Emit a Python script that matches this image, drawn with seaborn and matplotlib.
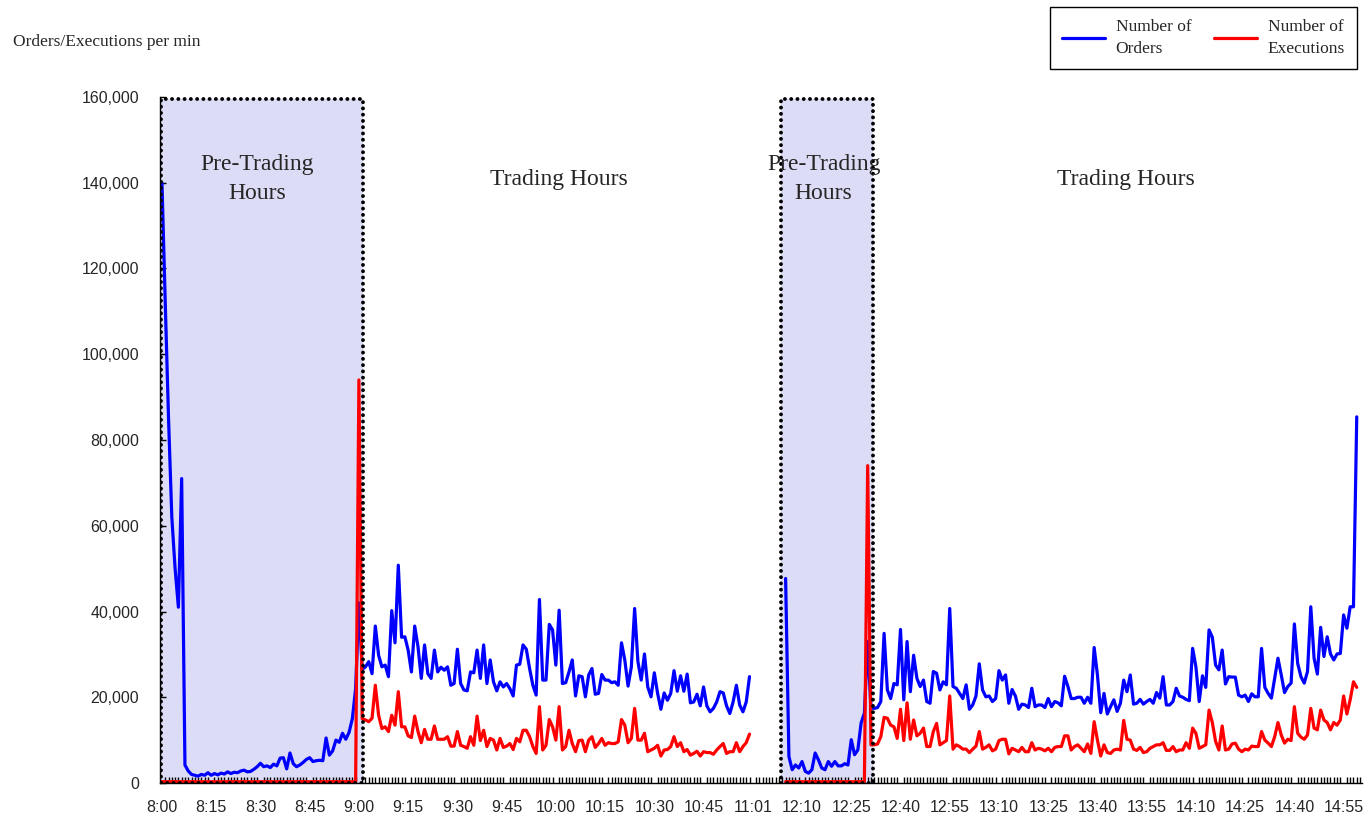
import seaborn as sns
import matplotlib.pyplot as plt
import matplotlib.ticker as mticker
from matplotlib.patches import Rectangle
import pandas as pd

# values in thousands per minute
# morning session: 8:00 (minute 0) .. 11:00 (minute 179)
am_pre_orders = [140, 112, 85, 62, 50, 41, 71, 4.2, 2.8, 2.0, 1.8, 1.6, 2.0, 1.8, 2.4, 1.8, 2.2,
                 1.9, 2.3, 2.1, 2.6, 2.2, 2.5, 2.4, 2.8, 3.0, 2.6, 2.7, 3.2, 3.8, 4.6, 3.8, 4.0,
                 3.6, 4.4, 4.0, 5.8, 5.9, 3.3, 7.0, 4.5, 3.8, 4.2, 4.8, 5.5, 5.9, 5.0, 5.2, 5.3,
                 5.2, 10.5, 6.5, 7.5, 10.0, 9.5, 11.6, 10.2, 11.8, 15.0, 22.0, 42.0]
am_pre_execs = [0.3] * 60 + [94.0]

am_orders = [26.5,
             27.1, 28.3, 25.5, 36.6, 29.8, 27.1, 27.5, 24.8, 40.2, 32.7,
             50.8, 34.0, 34.1, 31.0, 25.9, 36.6, 31.8, 24.4, 32.2, 25.5,
             24.4, 31.0, 25.9, 27.0, 26.3, 27.1, 22.8, 23.2, 31.2, 23.2,
             21.7, 21.5, 25.9, 25.7, 31.0, 24.4, 32.2, 23.2, 28.7, 23.6,
             21.5, 23.6, 22.4, 23.2, 22.0, 20.3, 27.5, 27.7, 32.2, 31.2,
             26.7, 22.8, 20.5, 42.8, 24.0, 24.0, 37.0, 35.7, 27.5, 40.3,
             23.2, 23.4, 25.9, 28.7, 20.3, 25.0, 24.8, 20.1, 25.2, 26.7,
             20.7, 20.9, 25.3, 24.0, 24.0, 23.4, 23.6, 22.8, 32.7, 28.7,
             22.6, 27.1, 40.7, 28.3, 24.0, 30.1, 22.4, 20.1, 25.7, 20.9,
             17.2, 21.0, 19.3, 20.9, 26.2, 21.4, 25.0, 21.4, 25.4, 18.7,
             18.9, 20.7, 18.0, 22.4, 18.0, 16.6, 17.4, 18.9, 21.3, 21.0,
             18.0, 16.2, 18.9, 22.8, 18.2, 16.6, 18.9, 24.8]
am_execs = [15.0,
            14.7, 14.3, 15.1, 22.8, 15.8, 12.7, 13.1, 12.0, 15.8, 13.5,
            21.3, 13.1, 13.1, 11.0, 10.6, 15.6, 12.0, 9.4, 12.5, 10.2,
            10.2, 13.3, 10.2, 10.2, 10.2, 10.8, 8.6, 8.6, 12.0, 8.8,
            8.5, 8.1, 10.8, 8.8, 15.6, 9.9, 12.3, 8.5, 10.4, 10.0,
            7.7, 10.4, 8.3, 8.6, 9.2, 7.8, 10.4, 9.6, 12.3, 12.3,
            10.8, 8.5, 6.9, 17.8, 7.7, 8.8, 14.8, 13.1, 10.0, 17.8,
            7.7, 8.5, 12.3, 9.2, 7.3, 9.9, 10.0, 7.3, 10.0, 10.8,
            8.3, 9.2, 10.4, 8.8, 9.4, 9.2, 9.2, 9.6, 14.8, 13.5,
            9.4, 10.4, 17.4, 10.0, 10.0, 11.6, 7.3, 7.7, 8.1, 8.8,
            6.3, 7.7, 7.8, 8.5, 10.8, 8.5, 9.4, 7.3, 7.8, 6.5,
            6.9, 7.4, 6.3, 7.3, 7.1, 7.1, 6.7, 7.7, 8.5, 9.2,
            6.9, 7.3, 7.3, 9.4, 7.3, 8.5, 9.4, 11.4]

# afternoon session: 12:05 (minute 190) .. 15:00
pm_pre_orders = [47.7, 6.2, 3.1, 4.2, 3.5, 5.0, 2.7, 2.3, 3.1, 7.0, 5.4, 3.5, 3.1, 5.0, 3.9,
                 5.0, 4.0, 4.0, 4.5, 4.2, 10.1, 6.6, 7.7, 14.0, 16.3, 33.0]
pm_pre_execs = [0.3] * 25 + [74.0]

pm_orders = [17.5,
             17.4, 17.6, 19.0, 34.9, 21.7, 19.7, 23.2, 22.9, 35.8, 19.4,
             33.0, 21.3, 29.8, 24.4, 22.5, 24.0, 19.0, 18.6, 26.0, 25.6,
             21.7, 23.6, 22.9, 40.7, 22.5, 22.1, 20.9, 19.7, 22.9, 17.2,
             18.2, 20.3, 27.8, 21.7, 20.1, 20.3, 19.0, 19.7, 26.2, 24.0,
             25.2, 18.6, 21.8, 20.3, 17.2, 18.4, 18.2, 17.6, 22.1, 17.8,
             18.2, 18.2, 17.6, 19.7, 17.8, 19.0, 18.7, 18.0, 24.9, 22.5,
             19.7, 19.7, 20.0, 20.0, 18.6, 20.0, 18.6, 31.6, 25.2, 16.4,
             20.9, 16.1,
             17.8, 19.4, 16.7, 18.6, 24.0, 21.3, 25.2, 18.4, 18.6, 19.5,
             18.4, 19.0, 19.5, 18.6, 21.1, 19.8, 24.8, 18.2, 18.2, 19.0,
             22.1, 20.3, 20.0, 19.5, 19.2, 31.4, 27.1, 19.0, 25.0, 22.3,
             35.7, 34.0, 27.5, 26.4, 31.0, 23.1, 24.8, 24.7, 24.7, 20.5,
             20.1, 20.5, 19.0, 20.8, 20.1, 20.1, 31.4, 22.3, 20.9, 19.8,
             24.4, 29.1, 25.2, 21.1, 22.5, 23.3, 37.1, 27.9, 24.8, 23.3,
             26.0, 41.1, 29.1, 25.4, 36.3, 29.5, 34.1, 30.1, 28.7, 30.1,
             30.2, 39.2, 36.1, 41.1, 41.1, 85.4]
pm_execs = [8.9,
            8.9, 9.1, 10.8, 15.3, 15.1, 13.5, 13.1, 10.4, 17.2, 9.9,
            18.7, 10.2, 14.7, 11.0, 11.6, 12.8, 8.5, 8.5, 12.0, 13.9,
            8.9, 9.4, 9.9, 20.3, 7.9, 8.9, 8.5, 7.9, 7.9, 7.1,
            7.9, 8.6, 12.0, 7.9, 8.3, 8.9, 7.5, 7.9, 9.9, 10.2,
            10.2, 6.8, 8.1, 7.7, 7.3, 8.3, 7.3, 7.3, 9.4, 7.7,
            8.1, 7.9, 7.5, 8.1, 7.3, 8.3, 8.5, 8.5, 11.0, 11.0,
            7.7, 8.5, 8.9, 8.1, 7.3, 9.1, 6.9, 14.3, 10.0, 6.3,
            8.9, 7.1,
            6.9, 7.7, 7.9, 7.7, 14.6, 10.2, 10.0, 7.9, 7.6, 8.3,
            7.1, 7.3, 8.1, 8.5, 8.9, 8.9, 9.4, 7.6, 7.6, 8.5,
            7.3, 7.7, 7.7, 9.4, 8.1, 12.8, 11.6, 8.1, 8.5, 8.9,
            17.0, 14.1, 9.7, 7.7, 13.3, 7.7, 7.9, 9.1, 9.3, 7.9,
            7.3, 7.9, 7.7, 8.6, 8.5, 8.5, 12.0, 10.0, 9.3, 8.5,
            10.8, 14.1, 11.2, 9.3, 10.2, 9.9, 17.8, 11.6, 10.7, 10.2,
            11.2, 17.4, 12.8, 12.4, 17.0, 14.7, 14.1, 12.4, 14.1, 13.5,
            14.7, 20.3, 16.1, 19.4, 23.6, 22.3]

tick_labels = ["8:00", "8:15", "8:30", "8:45", "9:00", "9:15", "9:30", "9:45", "10:00",
               "10:15", "10:30", "10:45", "11:01", "12:10", "12:25", "12:40", "12:55",
               "13:10", "13:25", "13:40", "13:55", "14:10", "14:25", "14:40", "14:55"]

am_start, pm_start = 0, 190
am_o = am_pre_orders + am_orders
am_e = am_pre_execs + am_execs
pm_o = pm_pre_orders + pm_orders
pm_e = pm_pre_execs + pm_execs

df = pd.concat([
    pd.DataFrame({"minute": range(am_start, am_start + len(am_o)),
                  "orders": am_o, "executions": am_e, "segment": "am"}),
    pd.DataFrame({"minute": range(pm_start, pm_start + len(pm_o)),
                  "orders": pm_o, "executions": pm_e, "segment": "pm"}),
])
df["orders"] *= 1000
df["executions"] *= 1000

sns.set_style("white")
plt.rcParams["font.family"] = ["Liberation Sans", "DejaVu Sans"]
serif = ["Liberation Serif", "DejaVu Serif"]

fig = plt.figure(figsize=(13.67, 8.17), dpi=100)
ax = fig.add_axes([160 / 1367, 34 / 817, 1202 / 1367, 686 / 817])

# pre-trading shaded boxes
for x0, x1 in [(-0.2, 61.2), (188.5, 216.6)]:
    ax.add_patch(Rectangle((x0, 0), x1 - x0, 159500, facecolor="#dcdcf6",
                           edgecolor="none", zorder=0))
    border = Rectangle((x0, 0), x1 - x0, 159500, facecolor="none",
                       edgecolor="black", linewidth=2.8,
                       linestyle=(0, (0.01, 1.6)), zorder=4)
    border.set_capstyle("round")
    ax.add_patch(border)

sns.lineplot(data=df, x="minute", y="orders", units="segment", estimator=None,
             sort=False, color="#0000ff", linewidth=2.3, label="Number of\nOrders", ax=ax)
sns.lineplot(data=df, x="minute", y="executions", units="segment", estimator=None,
             sort=False, color="#ff0000", linewidth=2.3, label="Number of\nExecutions", ax=ax)

ax.set_xlim(-0.6, 365.6)
ax.set_ylim(0, 160000)
ax.set_xlabel("")
ax.set_ylabel("")

ax.set_xticks([15 * i for i in range(len(tick_labels))])
ax.set_xticklabels(tick_labels, fontsize=11.5)
ax.set_xticks([m for m in range(0, 366) if m % 15 != 0], minor=True)
ax.tick_params(axis="x", which="major", bottom=True, length=0, pad=12)
ax.tick_params(axis="x", which="minor", bottom=True, direction="in", length=4,
               width=1, color="black")
ax.set_yticks(range(0, 160001, 20000))
ax.yaxis.set_major_formatter(mticker.StrMethodFormatter("{x:,.0f}"))
ax.tick_params(axis="y", direction="in", length=4, width=1, labelsize=11.5, pad=15,
               left=True, color="black")

for s in ["top", "right"]:
    ax.spines[s].set_visible(False)
for s in ["left", "bottom"]:
    ax.spines[s].set_color("black")
    ax.spines[s].set_linewidth(1)

txt = dict(family=serif, fontsize=17, ha="center", va="center", linespacing=1.5, zorder=5)
ax.text(29, 140900, "Pre-Trading\nHours", **txt)
ax.text(201.6, 140900, "Pre-Trading\nHours", **txt)
ax.text(121, 140800, "Trading Hours", **txt)
ax.text(293.6, 140800, "Trading Hours", **txt)

fig.text(13 / 1367, 1 - 42 / 817, "Orders/Executions per min", family=serif,
         fontsize=12.5, ha="left", va="center")

handles, labels = ax.get_legend_handles_labels()
uniq = dict(zip(labels, handles))
ax.get_legend().remove()
leg = fig.legend(list(uniq.values()), list(uniq.keys()), loc="upper right",
                 bbox_to_anchor=(1357 / 1367, 1 - 7 / 817), borderaxespad=0,
                 ncol=2, frameon=True, fancybox=False, framealpha=1, edgecolor="black",
                 prop={"family": serif, "size": 12.5}, handlelength=2.5, handletextpad=0.6,
                 columnspacing=1.3, borderpad=0.7)
leg.get_frame().set_linewidth(1)
for t in leg.get_texts():
    t.set_linespacing(1.45)

fig.savefig("out.png", dpi=100)
